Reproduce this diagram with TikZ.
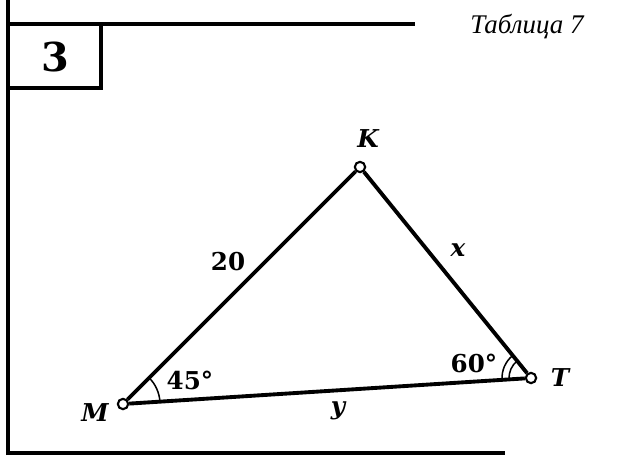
\documentclass[tikz,border=0pt]{standalone}
\usepackage{fontspec}
\setmainfont{Liberation Serif}
\newfontfamily\figfont{DejaVu Serif}
\usetikzlibrary{angles}
\begin{document}
\begin{tikzpicture}[x=0.3mm, y=0.3mm,
  side/.style={line width=3.3pt},
  frame/.style={line width=2.6pt},
  vert/.style={draw, circle, fill=white, line width=1.8pt, inner sep=0pt, minimum size=3.1mm},
  arcmark/.style={draw, line width=1.3pt},
  lab/.style={font=\figfont\fontsize{21}{24}\selectfont\bfseries\itshape},
  num/.style={font=\figfont\fontsize{21}{24}\selectfont\bfseries}]
\useasboundingbox (0,0) rectangle (625,455);
% frame of the page
\draw[frame] (8,0) -- (8,455);
\draw[frame] (8,431) -- (415,431);
\draw[frame] (8,2) -- (505,2);
\draw[frame] (8,431) -| (101,367) -- (8,367);
\node[font=\figfont\fontsize{34}{40}\selectfont\bfseries] (num3) at (55,398) {3};
\node[font=\fontsize{23}{26}\selectfont\itshape] (tab) at (527,428) {Таблица 7};
% triangle
\node[vert] (M) at (123,51) {};
\node[vert] (K) at (360,288) {};
\node[vert] (T) at (531,77) {};
\draw[side] (M) -- (K);
\draw[side] (K) -- (T);
\draw[side] (T) -- (M);
\pic[arcmark, angle radius=11.1mm] {angle=T--M--K};
\pic[arcmark, angle radius=6.6mm] {angle=K--T--M};
\pic[arcmark, angle radius=8.7mm] {angle=K--T--M};
% labels
\node[lab] (lK) at (368,316) {K};
\node[lab] (lM) at (95,42) {M};
\node[lab] (lT) at (560,77) {T};
\node[num] (l20) at (228,193) {20};
\node[lab] (lx) at (458,205) {x};
\node[lab] (ly) at (338,44) {y};
\node[num] (a45) at (190,75) {45°};
\node[num] (a60) at (474,92) {60°};
\end{tikzpicture}
\end{document}
